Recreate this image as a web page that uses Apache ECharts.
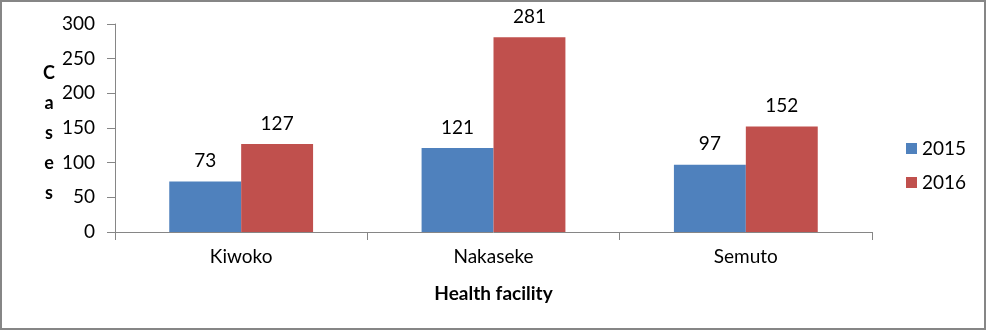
<!DOCTYPE html>
<html><head><meta charset="utf-8">
<script src="https://cdn.jsdelivr.net/npm/echarts@6/dist/echarts.min.js"></script>
<style>
html,body{margin:0;padding:0;background:#fff;}
#c{width:986px;height:330px;box-sizing:border-box;border:2px solid #868686;}
</style></head><body>
<div id="c"></div>
<script>
const categories = ['Kiwoko', 'Nakaseke', 'Semuto'];
const cases2015 = [73, 121, 97];
const cases2016 = [127, 281, 152];
const seriesNames = ['2015', '2016'];
const yAxisTitle = 'Cases';

const FONT = 'Lato';
const chart = echarts.init(document.getElementById('c'), null, {renderer: 'canvas'});
const labelStyle = {show: true, position: 'top', distance: 11, color: '#000', fontFamily: FONT, fontSize: 19};
const letterStyle = {fontFamily: FONT, fontSize: 18, fontWeight: 'bold', color: '#000', lineHeight: 30, align: 'center'};
chart.setOption({
  animation: false,
  textStyle: {fontFamily: FONT},
  grid: {left: 113, right: 112, top: 22, bottom: 96, containLabel: false},
  legend: {
    orient: 'vertical', left: 899, top: 132,
    itemWidth: 11, itemHeight: 11, itemGap: 15,
    icon: 'rect',
    textStyle: {fontFamily: FONT, fontSize: 19, color: '#000'},
    data: seriesNames
  },
  xAxis: {
    type: 'category', data: categories,
    name: 'Health facility', nameLocation: 'middle', nameGap: 52,
    nameTextStyle: {fontFamily: FONT, fontSize: 19, fontWeight: 'bold', color: '#000'},
    axisLine: {lineStyle: {color: '#868686', width: 1}},
    axisTick: {show: true, length: 8, lineStyle: {color: '#868686'}},
    axisLabel: {margin: 15, color: '#000', fontFamily: FONT, fontSize: 19}
  },
  yAxis: {
    type: 'value', min: 0, max: 300, interval: 50,
    name: '{s| }\n' + yAxisTitle.split('').map(ch => '{l|' + ch + '}').join('\n'),
    nameLocation: 'middle', nameRotate: 0, nameGap: 66,
    nameTextStyle: {
      fontFamily: FONT, fontSize: 18, fontWeight: 'bold', color: '#000', align: 'center',
      rich: {s: {fontSize: 8, lineHeight: 10}, l: letterStyle}
    },
    axisLine: {show: true, lineStyle: {color: '#868686', width: 1}},
    axisTick: {show: true, length: 8, lineStyle: {color: '#868686'}},
    splitLine: {show: false},
    axisLabel: {margin: 20, color: '#000', fontFamily: FONT, fontSize: 19}
  },
  series: [
    {name: seriesNames[0], type: 'bar', data: cases2015, barGap: '0%', barCategoryGap: '43%',
     itemStyle: {color: '#4F81BD'}, label: labelStyle},
    {name: seriesNames[1], type: 'bar', data: cases2016, barGap: '0%', barCategoryGap: '43%',
     itemStyle: {color: '#C0504D'}, label: labelStyle}
  ]
});
</script>
</body></html>
